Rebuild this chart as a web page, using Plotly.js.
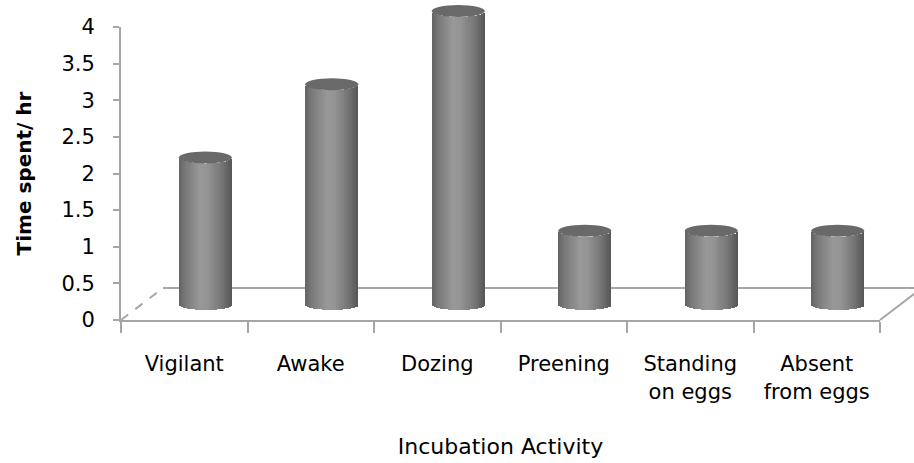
<!DOCTYPE html>
<html>
<head>
<meta charset="utf-8">
<script src="https://cdn.plot.ly/plotly-3.0.1.min.js"></script>
<style>html,body{margin:0;padding:0;background:#fff;}#chart{width:914px;height:463px;}
#chart .bars path{shape-rendering:crispEdges;}</style>
</head>
<body>
<div id="chart"></div>
<script>
// ---- data ----
const categories = ['Vigilant', 'Awake', 'Dozing', 'Preening', 'Standing on eggs', 'Absent from eggs'];
const tickLabels = ['Vigilant', 'Awake', 'Dozing', 'Preening', 'Standing<br>on eggs', 'Absent<br>from eggs'];
const values = [2, 3, 4, 1, 1, 1];
const yTickVals = [0, 0.5, 1, 1.5, 2, 2.5, 3, 3.5, 4];
const xTitle = 'Incubation Activity';
const yTitle = 'Time spent/ hr';

// ---- geometry (pixels) ----
const W = 914, H = 463;
const mL = 121, mR = 0, mT = 2, mB = 143;
const pw = W - mL - mR, ph = H - mT - mB;
const frontW = 759, frontH = 293;   // front plane size
const depthX = 42, depthY = 32;      // 3-D depth offset
const gray = '#a6a6a6';
const yMax = 4;
const upx = frontH / yMax;           // px per unit

const idx = categories.map((c, i) => i);
const barW = 0.42;            // cylinder width in category units
const ellPx = 6;              // half-height of the ellipses in px
const ellU = ellPx / upx;

// cylinder shading: slices
const N = 26;
const stops = [[0, 98], [0.12, 120], [0.4, 152], [0.55, 148], [0.8, 118], [1, 86]];
function shade(t) {
  for (let k = 0; k < stops.length - 1; k++) {
    const a = stops[k], b = stops[k + 1];
    if (t >= a[0] && t <= b[0]) {
      const f = (t - a[0]) / (b[0] - a[0]);
      const v = Math.round(a[1] + f * (b[1] - a[1]));
      return 'rgb(' + v + ',' + v + ',' + v + ')';
    }
  }
  return 'rgb(90,90,90)';
}
const traces = [];
// invisible trace anchoring the front axes
traces.push({ type: 'scatter', x: idx, y: values, mode: 'markers', marker: { opacity: 0 },
  xaxis: 'x', yaxis: 'y', hoverinfo: 'skip', showlegend: false });
for (let k = 0; k < N; k++) {
  const t = (k + 0.5) / N;
  const u = 2 * t - 1;
  const sw = barW / N;
  traces.push({
    type: 'bar', x: idx, y: values,
    base: -ellU * Math.sqrt(1 - u * u),
    width: k === N - 1 ? sw : sw * 1.6, offset: -barW / 2 + k * sw,
    xaxis: 'x2', yaxis: 'y2', cliponaxis: false,
    marker: { color: shade(t), line: { width: 0 } },
    hoverinfo: 'skip', showlegend: false
  });
}

const shapes = [];
// top ellipses
idx.forEach((i) => {
  shapes.push({
    type: 'circle', xref: 'x2', yref: 'y2', layer: 'above',
    x0: i - barW / 2, x1: i + barW / 2,
    y0: values[i] - ellU, y1: values[i] + ellU,
    fillcolor: '#696969', line: { width: 0 }
  });
});
// floor: back edge and side diagonals
const fx = frontW / pw, dx = depthX / pw, dy = depthY / ph;
shapes.push({ type: 'line', xref: 'paper', yref: 'paper', layer: 'below',
  x0: 0, y0: 0, x1: dx, y1: dy, line: { color: gray, width: 2, dash: 'dash' } });
shapes.push({ type: 'line', xref: 'paper', yref: 'paper', layer: 'below',
  x0: dx, y0: dy, x1: fx + dx, y1: dy, line: { color: gray, width: 2 } });
shapes.push({ type: 'line', xref: 'paper', yref: 'paper', layer: 'below',
  x0: fx, y0: 0, x1: fx + dx, y1: dy, line: { color: gray, width: 2 } });

const font = { family: 'DejaVu Sans', color: '#000' };

// mid-depth plane for the cylinders: y2 covers the whole plot height
const y2lo = -(depthY / 2) / upx;
const y2hi = (ph - depthY / 2) / upx;

const layout = {
  width: W, height: H,
  margin: { l: mL, r: mR, t: mT, b: mB },
  paper_bgcolor: '#fff', plot_bgcolor: 'rgba(0,0,0,0)',
  barmode: 'overlay', showlegend: false,
  font: Object.assign({ size: 21 }, font),
  xaxis: {
    domain: [0, frontW / pw], range: [-0.5, categories.length - 0.5],
    tickmode: 'array', tickvals: idx, ticktext: tickLabels,
    ticks: '', showline: true, linecolor: gray, linewidth: 2,
    showgrid: false, zeroline: false, ticklabelstandoff: 24,
    minor: { tickmode: 'linear', tick0: -0.5, dtick: 1, ticks: 'outside', ticklen: 11, tickwidth: 2, tickcolor: gray, showgrid: false },
    tickfont: Object.assign({ size: 21 }, font),
    title: { text: xTitle, standoff: 36, font: Object.assign({ size: 22 }, font) },
    fixedrange: true, anchor: 'y', automargin: false
  },
  yaxis: {
    domain: [0, frontH / ph], range: [0, yMax],
    tickmode: 'array', tickvals: yTickVals,
    ticks: 'outside', ticklen: 6, tickwidth: 2, tickcolor: gray,
    showline: true, linecolor: gray, linewidth: 2,
    showgrid: false, zeroline: false, ticklabelstandoff: 14,
    tickfont: Object.assign({ size: 21 }, font),
    title: { text: yTitle, standoff: 24, font: Object.assign({ size: 20, weight: 'bold' }, font) },
    fixedrange: true, anchor: 'x', automargin: false
  },
  xaxis2: {
    domain: [(depthX / 2) / pw, (frontW + depthX / 2) / pw],
    range: [-0.5, categories.length - 0.5],
    visible: false, anchor: 'y2', fixedrange: true
  },
  yaxis2: {
    domain: [0, 1], range: [y2lo, y2hi],
    visible: false, anchor: 'x2', fixedrange: true
  },
  shapes: shapes
};

Plotly.newPlot('chart', traces, layout, { displayModeBar: false, staticPlot: true });
</script>
</body>
</html>
